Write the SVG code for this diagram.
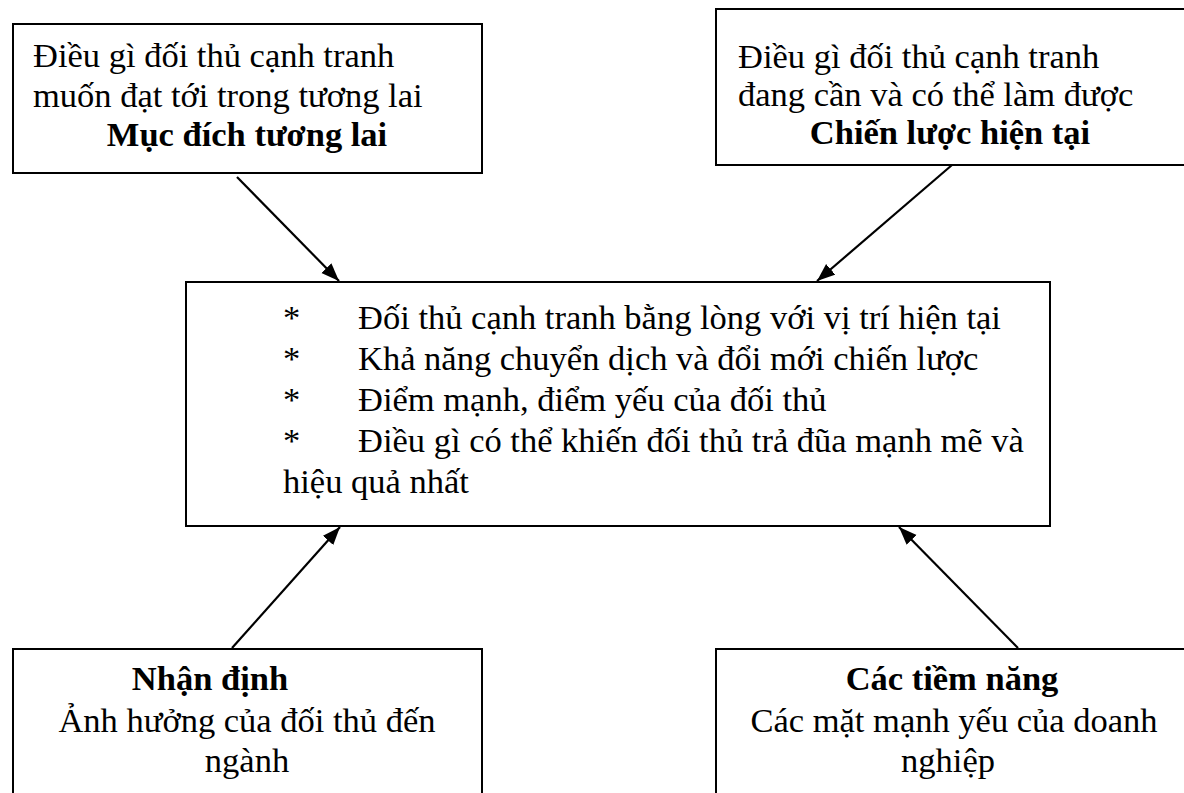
<svg xmlns="http://www.w3.org/2000/svg" width="1184" height="793" viewBox="0 0 1184 793">
<style>
.box{fill:#fff;stroke:#000;stroke-width:2}
.t{font-family:"Liberation Serif","Times New Roman",serif;font-size:34.5px;fill:#000}
.b{font-weight:bold}
.m{text-anchor:middle}
.c{stroke:#000;stroke-width:2.2;fill:none;marker-end:url(#ah)}
</style>
<defs>
<marker id="ah" markerUnits="userSpaceOnUse" markerWidth="20" markerHeight="16" refX="18" refY="7" orient="auto">
<path d="M0,0 L18,7 L0,14 Z" fill="#000"/>
</marker>
</defs>
<rect width="1184" height="793" fill="#fff"/>
<g id="goal">
<rect class="box" x="13" y="24" width="469" height="149"/>
<text class="t" x="33" y="67">Điều gì đối thủ cạnh tranh</text>
<text class="t" x="33" y="107">muốn đạt tới trong tương lai</text>
<text class="t b m" x="247" y="146">Mục đích tương lai</text>
</g>
<g id="strategy">
<rect class="box" x="716" y="9" width="470" height="156"/>
<text class="t" x="738" y="68">Điều gì đối thủ cạnh tranh</text>
<text class="t" x="738" y="106">đang cần và có thể làm được</text>
<text class="t b m" x="950" y="144">Chiến lược hiện tại</text>
</g>
<g id="center">
<rect class="box" x="186" y="282" width="864" height="244"/>
<text class="t" x="283" y="329">*</text>
<text class="t" x="358" y="329">Đối thủ cạnh tranh bằng lòng với vị trí hiện tại</text>
<text class="t" x="283" y="370">*</text>
<text class="t" x="358" y="370">Khả năng chuyển dịch và đổi mới chiến lược</text>
<text class="t" x="283" y="411">*</text>
<text class="t" x="358" y="411">Điểm mạnh, điểm yếu của đối thủ</text>
<text class="t" x="283" y="452">*</text>
<text class="t" x="358" y="452">Điều gì có thể khiến đối thủ trả đũa mạnh mẽ và</text>
<text class="t" x="283" y="493">hiệu quả nhất</text>
</g>
<g id="assessment">
<rect class="box" x="13" y="649" width="469" height="160"/>
<text class="t b m" x="210" y="690">Nhận định</text>
<text class="t m" x="247" y="732">Ảnh hưởng của đối thủ đến</text>
<text class="t m" x="247" y="772">ngành</text>
</g>
<g id="potential">
<rect class="box" x="716" y="649" width="470" height="160"/>
<text class="t b m" x="952" y="690">Các tiềm năng</text>
<text class="t m" x="954" y="732">Các mặt mạnh yếu của doanh</text>
<text class="t m" x="948" y="772">nghiệp</text>
</g>
<g id="connectors">
<line class="c" x1="237" y1="177" x2="339" y2="281"/>
<line class="c" x1="952" y1="165" x2="817" y2="281"/>
<line class="c" x1="232" y1="648" x2="340" y2="527"/>
<line class="c" x1="1018" y1="648" x2="899" y2="527"/>
</g>
</svg>
